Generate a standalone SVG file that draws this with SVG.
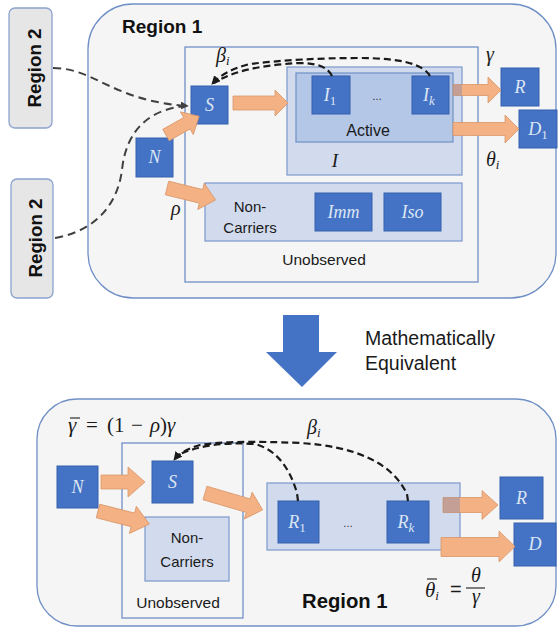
<svg xmlns="http://www.w3.org/2000/svg" width="558" height="628" viewBox="0 0 558 628">
<defs>
<marker id="ah" viewBox="0 0 10 10" refX="9" refY="5" markerWidth="4" markerHeight="4" orient="auto"><path d="M0,0 L10,5 L0,10 z" fill="#1a1a1a"/></marker>
<marker id="ahg" viewBox="0 0 10 10" refX="9" refY="5" markerWidth="4" markerHeight="4" orient="auto"><path d="M0,0 L10,5 L0,10 z" fill="#404040"/></marker>
<style>
.region{fill:#F5F5F5;stroke:#6F8FC6;stroke-width:1.3}
.r2{fill:#E6E6E6;stroke:#8BA3CF;stroke-width:1.3}
.frame{fill:none;stroke:#6F8FC6;stroke-width:1.3}
.light{fill:#D2DBED;stroke:#7C98CB;stroke-width:1.2}
.active{fill:#B4C7E7;stroke:#6F8FC6;stroke-width:1.2}
.dark{fill:#4472C4;stroke:#3560AE;stroke-width:1}
.bt{font-family:"Liberation Serif",serif;font-style:italic;font-size:18px;fill:#DCE6F5;text-anchor:middle}
.lbl{font-family:"Liberation Sans",Arial,sans-serif;fill:#1a1a1a}
.math{font-family:"Liberation Serif",serif;font-style:italic;fill:#1a1a1a}
.bold{font-family:"Liberation Sans",Arial,sans-serif;font-weight:bold;fill:#111}
.oa{fill:#F4B183;stroke:#D9976A;stroke-width:0.8}
.dash{fill:none;stroke:#1a1a1a;stroke-width:2.2;stroke-dasharray:7 4}
.dashg{fill:none;stroke:#404040;stroke-width:2;stroke-dasharray:8 5}
.ov{fill:#4472C4;opacity:0.28}
.bar{stroke:#1a1a1a;stroke-width:1.1}
</style>
</defs>

<g id="region1-top">
<rect class="region" x="88" y="4" width="468" height="294" rx="45"/>
<text class="bold" x="122" y="33" font-size="19">Region 1</text>
</g>
<g id="region2-a">
<rect class="r2" x="9" y="8" width="43" height="120" rx="6"/>
<text class="bold" font-size="18.7" text-anchor="middle" transform="translate(41,68) rotate(-90)">Region 2</text>
</g>
<g id="region2-b">
<rect class="r2" x="11" y="179" width="42" height="119" rx="6"/>
<text class="bold" font-size="18.7" text-anchor="middle" transform="translate(42,238) rotate(-90)">Region 2</text>
</g>
<g id="unobserved-top">
<rect class="frame" x="185" y="47" width="293" height="235"/>
<text class="lbl" x="324" y="265" font-size="15.5" text-anchor="middle">Unobserved</text>
</g>
<g id="I-box">
<rect class="light" x="287" y="67" width="175" height="108"/>
<text class="math" x="335" y="167" font-size="19" text-anchor="middle">I</text>
</g>
<g id="active">
<rect class="active" x="296" y="73" width="157" height="69"/>
<text class="lbl" x="368" y="136" font-size="16" text-anchor="middle">Active</text>
<text class="lbl" x="377" y="100" font-size="10" fill="#555" text-anchor="middle">…</text>
</g>
<g id="noncarriers-top">
<rect class="light" x="205" y="183" width="257" height="58"/>
<text class="lbl" x="250" y="212" font-size="15" text-anchor="middle">Non-</text>
<text class="lbl" x="250" y="233" font-size="15" text-anchor="middle">Carriers</text>
</g>
<g id="S-top"><rect class="dark" x="191" y="86" width="37" height="38"/><text class="bt" x="209.5" y="111">S</text></g>
<g id="N-top"><rect class="dark" x="136" y="138" width="37" height="39"/><text class="bt" x="154.5" y="163">N</text></g>
<g id="I1"><rect class="dark" x="312" y="76" width="38" height="38"/><text class="bt" x="330" y="101">I<tspan font-size="13" dy="4" font-style="normal">1</tspan></text></g>
<g id="Ik"><rect class="dark" x="412" y="76" width="37" height="38"/><text class="bt" x="429" y="101">I<tspan font-size="13" dy="4">k</tspan></text></g>
<g id="R-top"><rect class="dark" x="501" y="68" width="38" height="38"/><text class="bt" x="520" y="93">R</text></g>
<g id="D1"><rect class="dark" x="519" y="110" width="38" height="38"/><text class="bt" x="538" y="135">D<tspan font-size="13" dy="4" font-style="normal">1</tspan></text></g>
<g id="Imm"><rect class="dark" x="315" y="193" width="57" height="38"/><text class="bt" x="343.5" y="218">Imm</text></g>
<g id="Iso"><rect class="dark" x="384" y="193" width="57" height="38"/><text class="bt" x="412.5" y="218">Iso</text></g>

<g id="labels-top">
<text class="math" x="216" y="62" font-size="20">β<tspan font-size="13" dy="3">i</tspan></text>
<text class="math" x="486" y="61" font-size="20">γ</text>
<text class="math" x="486" y="166" font-size="20">θ<tspan font-size="13" dy="3">i</tspan></text>
<text class="math" x="171" y="215" font-size="20">ρ</text>
</g>

<g id="equiv">
<polygon points="283,315 319,315 319,352 337,352 302,387 266,352 283,352" fill="#4472C4"/>
<text class="lbl" x="365" y="345" font-size="19.5">Mathematically</text>
<text class="lbl" x="365" y="370" font-size="19.5">Equivalent</text>
</g>

<g id="region1-bottom">
<rect class="region" x="37" y="399" width="519" height="227" rx="40"/>
<text class="bold" x="302" y="608" font-size="20.3">Region 1</text>
<text class="math" x="68" y="432" font-size="21"><tspan>γ</tspan><tspan font-style="normal" x="86">=</tspan><tspan font-style="normal" x="107">(1</tspan><tspan font-style="normal" x="131">−</tspan><tspan x="150">ρ</tspan><tspan font-style="normal">)</tspan><tspan>γ</tspan></text>
<line class="bar" x1="70" y1="418" x2="80" y2="418"/>
<text class="math" x="307" y="434" font-size="20">β<tspan font-size="13" dy="3">i</tspan></text>
<text class="math" x="425" y="597" font-size="21">θ<tspan font-size="13" dy="3">i</tspan></text>
<line class="bar" x1="427" y1="579" x2="437" y2="579"/>
<text class="lbl" x="450" y="596" font-size="20">=</text>
<text class="math" x="476" y="582" font-size="20" text-anchor="middle">θ</text>
<line x1="466" y1="588" x2="485" y2="588" stroke="#1a1a1a" stroke-width="1.1"/>
<text class="math" x="476" y="603" font-size="20" text-anchor="middle">γ</text>
</g>
<g id="unobserved-bottom">
<rect class="frame" x="122" y="443" width="121" height="175"/>
<text class="lbl" x="178" y="608" font-size="15.5" text-anchor="middle">Unobserved</text>
</g>
<g id="noncarriers-bottom">
<rect class="light" x="145" y="517" width="84" height="64"/>
<text class="lbl" x="187" y="543" font-size="15" text-anchor="middle">Non-</text>
<text class="lbl" x="187" y="567" font-size="15" text-anchor="middle">Carriers</text>
</g>
<g id="R-container">
<rect class="light" x="267" y="483" width="193" height="67"/>
<text class="lbl" x="348" y="527" font-size="10" fill="#555" text-anchor="middle">…</text>
</g>
<g id="N-bottom"><rect class="dark" x="57" y="466" width="41" height="42"/><text class="bt" x="77.5" y="493">N</text></g>
<g id="S-bottom"><rect class="dark" x="152" y="461" width="41" height="42"/><text class="bt" x="172.5" y="488">S</text></g>
<g id="R1"><rect class="dark" x="278" y="501" width="41" height="42"/><text class="bt" x="297" y="528">R<tspan font-size="13" dy="4" font-style="normal">1</tspan></text></g>
<g id="Rk"><rect class="dark" x="387" y="501" width="42" height="42"/><text class="bt" x="406" y="528">R<tspan font-size="13" dy="4">k</tspan></text></g>
<g id="R-bottom"><rect class="dark" x="500" y="477" width="43" height="42"/><text class="bt" x="521.5" y="504">R</text></g>
<g id="D-bottom"><rect class="dark" x="514" y="523" width="42" height="43"/><text class="bt" x="535" y="550">D</text></g>

<g id="connectors">
<polygon class="oa" points="233,96 275,96 275,90 288,103 275,116 275,110 233,110"/>
<polygon class="oa" transform="translate(166,135) rotate(-29.4)" points="0,-6.5 24,-6.5 24,-13 38,0 24,13 24,6.5 0,6.5"/>
<polygon class="oa" transform="translate(167,188) rotate(13.8)" points="0,-7 35,-7 35,-13.5 50,0 35,13.5 35,7 0,7"/>
<polygon class="oa" points="453,84.5 488,84.5 488,77 501,90 488,103 488,95.5 453,95.5"/>
<rect class="ov" x="453" y="84.5" width="9" height="11"/>
<polygon class="oa" points="453,122.5 505,122.5 505,115 519,129 505,143 505,135.5 453,135.5"/>
<path class="dashg" d="M53,68 C95,68 112,101 188,106" marker-end="url(#ahg)"/>
<path class="dashg" d="M55,238 C100,230 118,200 122,170 C126,130 150,108 188,106"/>
<path class="dash" d="M430,76 Q420,58 360,58 Q300,58 250,64 Q225,70 212,84" marker-end="url(#ah)"/>
<path class="dash" d="M332,76 Q326,63 300,63 Q240,66 214,83"/>
<polygon class="oa" points="101,475 128,475 128,467 145,482 128,497 128,489 101,489"/>
<polygon class="oa" transform="translate(98,511) rotate(14.3)" points="0,-7 36,-7 36,-14 53,0 36,14 36,7 0,7"/>
<polygon class="oa" transform="translate(205,493) rotate(16.3)" points="0,-7 45,-7 45,-14 60,0 45,14 45,7 0,7"/>
<polygon class="oa" points="443,497.5 482,497.5 482,490.5 498,505 482,519.5 482,512.5 443,512.5"/>
<rect class="ov" x="443" y="497.5" width="17" height="15"/>
<polygon class="oa" points="441,537.5 499,537.5 499,531 515,546.5 499,562 499,556.5 441,556.5"/>
<path class="dash" d="M408,501 L407,494 Q385,448 300,443 Q230,440 200,445 Q182,450 174,460" marker-end="url(#ah)"/>
<path class="dash" d="M298,501 L297,493 Q285,452 255,444 Q210,441 180,454"/>
</g>
</svg>
